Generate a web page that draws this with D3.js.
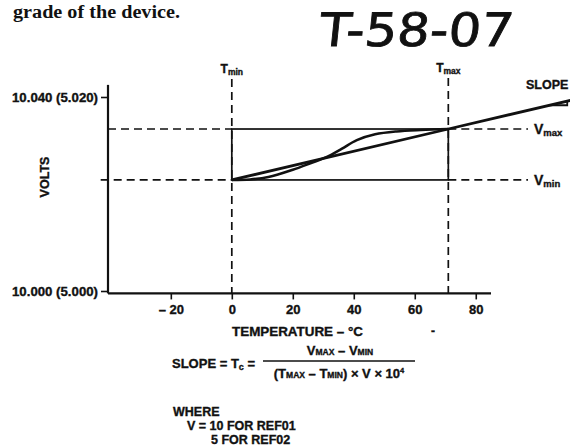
<!DOCTYPE html>
<html>
<head>
<meta charset="utf-8">
<script src="https://cdn.jsdelivr.net/npm/d3@7"></script>
<style>
  body { margin: 0; background: #fff; }
  svg { display: block; }
  .lbl { font-family: "Liberation Sans", Arial, sans-serif; font-weight: bold; fill: #111; stroke: #111; stroke-width: 0.35px; }
</style>
</head>
<body>
<svg id="chart" width="570" height="448"></svg>
<script>
// values
const tempTicks = [-20, 0, 20, 40, 60, 80];
const tempTickLabels = ["\u2013 20", "0", "20", "40", "60", "80"];
const voltTicks = [10.000, 10.040];
const voltTickLabels = ["10.000 (5.000)", "10.040 (5.020)"];
const tMin = 0;
const tMax = 71;
const vMin = 10.0229;
const vMax = 10.0334;
// S-shaped output curve
const curveTemp = [0, 6, 12, 20, 26, 31, 36, 41, 47, 54, 62, 71];
const curveVolt = [10.0229, 10.0230, 10.0235, 10.0250, 10.0264, 10.0276, 10.0293, 10.0311, 10.0323, 10.0329, 10.0332, 10.0334];
// straight slope line, through (Tmin,Vmin) and (Tmax,Vmax)
const slopeTemp = [0, 71, 111];
const slopeVolt = [10.0229, 10.0334, 10.0393];
// little slope triangle at the right end
const triTemp = [104, 110, 110];
const triVolt = [10.0383, 10.0383, 10.0392];

const svg = d3.select('#chart');

const x = d3.scaleLinear().domain([-40.6, 85]).range([108, 491]);
const y = d3.scaleLinear().domain([10.000, 10.040]).range([291, 97]);

// page text above the figure
svg.append('text')
  .attr('x', 13).attr('y', 18)
  .attr('textLength', 167).attr('lengthAdjust', 'spacingAndGlyphs')
  .style('font-family', '"Liberation Serif", serif')
  .style('font-weight', 'bold')
  .style('font-size', '18px')
  .attr('fill', '#111')
  .text('grade of the device.');

// handwritten mark
svg.append('text')
  .attr('x', 318).attr('y', 46)
  .attr('textLength', 194).attr('lengthAdjust', 'spacingAndGlyphs')
  .style('font-family', '"DejaVu Sans", sans-serif')
  .style('font-size', '46px')
  .attr('fill', '#111')
  .attr('stroke', '#111').attr('stroke-width', 0.8)
  .attr('transform', 'skewX(-6) translate(5,0)')
  .text('T-58-07');

// axes lines
svg.append('line')
  .attr('x1', x(-40.6)).attr('x2', x(-40.6))
  .attr('y1', y(10.0425)).attr('y2', y(9.9995))
  .attr('stroke', '#111').attr('stroke-width', 2.2);
svg.append('line')
  .attr('x1', x(-40.6)).attr('x2', x(85))
  .attr('y1', y(9.9995)).attr('y2', y(9.9995))
  .attr('stroke', '#111').attr('stroke-width', 2.2);

// y ticks
const yAxis = d3.axisLeft(y)
  .tickValues(voltTicks)
  .tickFormat((d, i) => voltTickLabels[i])
  .tickSize(7)
  .tickPadding(3);
const yg = svg.append('g').attr('transform', `translate(${x(-40.6)},0)`).call(yAxis);
yg.select('.domain').remove();
yg.selectAll('line').attr('stroke', '#111').attr('stroke-width', 1.6);
yg.selectAll('text').attr('class', 'lbl').style('font-size', '12.5px')
  .attr('textLength', 86).attr('lengthAdjust', 'spacingAndGlyphs');

// x ticks
const xAxis = d3.axisBottom(x)
  .tickValues(tempTicks)
  .tickFormat((d, i) => tempTickLabels[i])
  .tickSize(6)
  .tickPadding(5);
const xg = svg.append('g').attr('transform', `translate(0,${y(9.9995)})`).call(xAxis);
xg.select('.domain').remove();
xg.selectAll('line').attr('stroke', '#111').attr('stroke-width', 1.6);
xg.selectAll('text').attr('class', 'lbl').style('font-size', '13px');

// axis titles
svg.append('text')
  .attr('class', 'lbl')
  .attr('transform', 'translate(49,177) rotate(-90)')
  .attr('text-anchor', 'middle')
  .style('font-size', '12.5px')
  .text('VOLTS');

svg.append('text')
  .attr('class', 'lbl')
  .attr('x', 232).attr('y', 336)
  .attr('textLength', 131).attr('lengthAdjust', 'spacingAndGlyphs')
  .style('font-size', '12.5px')
  .text('TEMPERATURE \u2013 \u00b0C');

svg.append('text')
  .attr('class', 'lbl')
  .attr('x', 431).attr('y', 335)
  .style('font-size', '12px')
  .text('-');

// dashed guides
const dash = '8,5';
function guide(x1, y1, x2, y2) {
  svg.append('line')
    .attr('x1', x1).attr('y1', y1).attr('x2', x2).attr('y2', y2)
    .attr('stroke', '#111').attr('stroke-width', 1.7)
    .attr('stroke-dasharray', dash);
}
guide(x(tMin), 79, x(tMin), y(9.9995));
guide(x(tMax), 78, x(tMax), y(9.9995));
guide(x(-40.6), y(vMax), x(tMin), y(vMax));
guide(x(-43), y(vMin), x(tMin), y(vMin));
guide(x(tMax), y(vMax), 528, y(vMax));
guide(x(tMax), y(vMin), 528, y(vMin));

// Tmin/Tmax box
svg.append('rect')
  .attr('x', x(tMin)).attr('y', y(vMax))
  .attr('width', x(tMax) - x(tMin)).attr('height', y(vMin) - y(vMax))
  .attr('fill', 'none').attr('stroke', '#111').attr('stroke-width', 1.7);

const line = d3.line().x(d => x(d[0])).y(d => y(d[1]));

svg.append('path')
  .datum(slopeTemp.map((t, i) => [t, slopeVolt[i]]))
  .attr('d', line)
  .attr('fill', 'none').attr('stroke', '#111').attr('stroke-width', 2.8);

svg.append('path')
  .datum(curveTemp.map((t, i) => [t, curveVolt[i]]))
  .attr('d', d3.line().x(d => x(d[0])).y(d => y(d[1])).curve(d3.curveCatmullRom.alpha(0.5)))
  .attr('fill', 'none').attr('stroke', '#111').attr('stroke-width', 2.6);

svg.append('path')
  .datum(triTemp.map((t, i) => [t, triVolt[i]]))
  .attr('d', line)
  .attr('fill', 'none').attr('stroke', '#111').attr('stroke-width', 1.8);

// T and V labels with subscripts
function subLabel(px, py, main, sub, anchor, big) {
  const t = svg.append('text').attr('class', 'lbl').attr('x', px).attr('y', py)
    .attr('text-anchor', anchor || 'start');
  t.append('tspan').style('font-size', big ? '14px' : '12px').text(main);
  t.append('tspan').style('font-size', big ? '9.5px' : '8.5px').attr('dy', 2).text(sub);
}
subLabel(x(tMin), 73, 'T', 'min', 'middle');
subLabel(x(tMax), 72, 'T', 'max', 'middle');
subLabel(534, y(vMax) + 5, 'V', 'max', 'start', true);
subLabel(534, y(vMin) + 5, 'V', 'min', 'start', true);

svg.append('text')
  .attr('class', 'lbl')
  .attr('x', 526).attr('y', 89)
  .style('font-size', '12.5px')
  .text('SLOPE');

// formula block
const f = svg.append('g').attr('class', 'lbl');
const lhs = f.append('text').attr('x', 172).attr('y', 368).style('font-size', '13px');
lhs.append('tspan').text('SLOPE = T');
lhs.append('tspan').style('font-size', '9px').attr('dy', 2).text('c');
lhs.append('tspan').attr('dy', -2).text(' =');

const num = f.append('text').attr('x', 340).attr('y', 355).attr('text-anchor', 'middle').style('font-size', '13px');
num.append('tspan').text('V');
num.append('tspan').style('font-size', '8.5px').text('MAX');
num.append('tspan').text(' \u2013 V');
num.append('tspan').style('font-size', '8.5px').text('MIN');

f.append('line').attr('x1', 263).attr('x2', 415).attr('y1', 361).attr('y2', 361)
  .attr('stroke', '#111').attr('stroke-width', 1.5);

const den = f.append('text').attr('x', 339).attr('y', 378).attr('text-anchor', 'middle').style('font-size', '13px');
den.append('tspan').text('(T');
den.append('tspan').style('font-size', '8.5px').text('MAX');
den.append('tspan').text(' \u2013 T');
den.append('tspan').style('font-size', '8.5px').text('MIN');
den.append('tspan').text(') \u00d7 V \u00d7 10');
den.append('tspan').style('font-size', '7.5px').attr('dy', -5).text('4');

f.append('text').attr('x', 173).attr('y', 416).style('font-size', '12.5px').text('WHERE');
f.append('text').attr('x', 187).attr('y', 430).style('font-size', '12.5px').text('V = 10 FOR REF01');
f.append('text').attr('x', 211).attr('y', 444).style('font-size', '12.5px').text('5 FOR REF02');
</script>
</body>
</html>
